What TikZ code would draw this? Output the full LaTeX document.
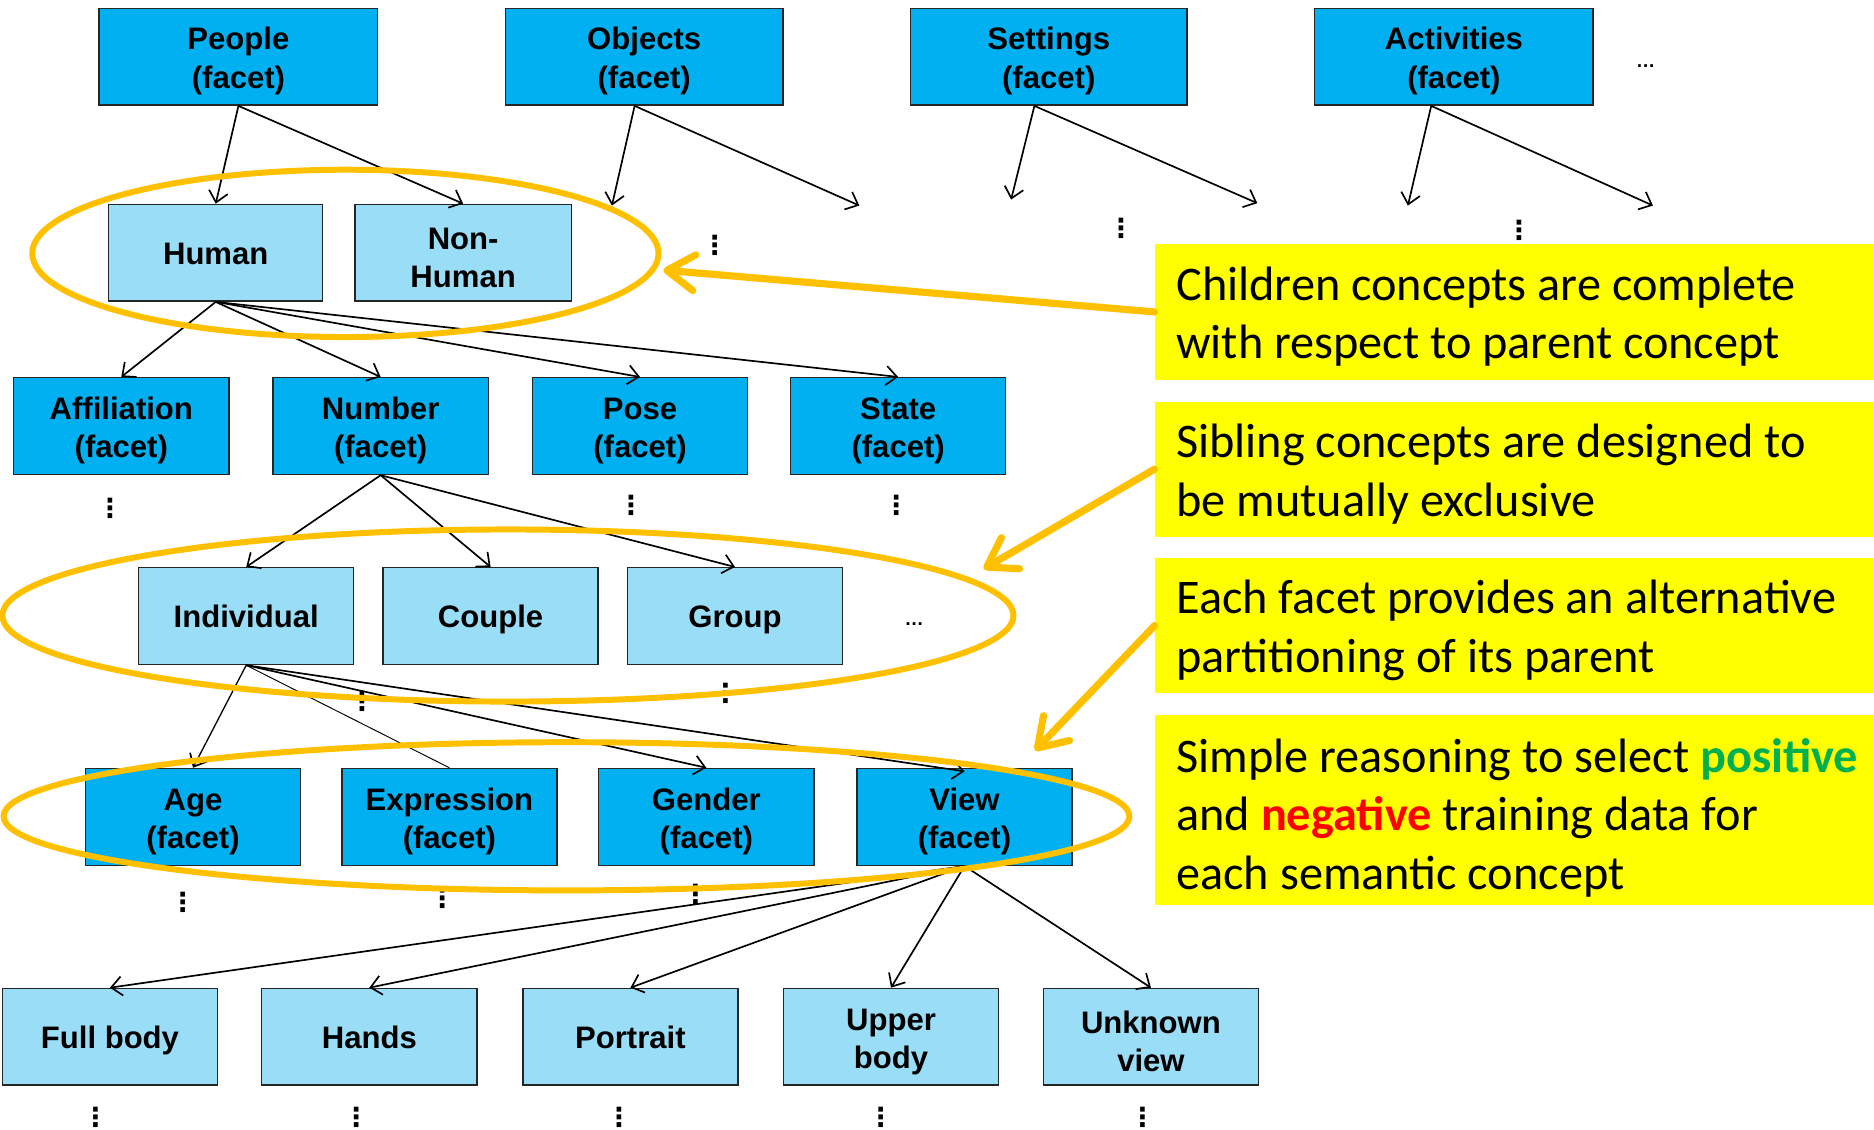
\documentclass[tikz,border=0pt]{standalone}
\usepackage{fontspec}
\setmainfont{Liberation Sans}
\newfontfamily\calloutfont{Carlito}
\newfontfamily\symbolfont{DejaVu Sans}
\usetikzlibrary{arrows.meta}
\definecolor{facetblue}{HTML}{00B0F0}
\definecolor{conceptblue}{HTML}{9ADDF7}
\definecolor{ringorange}{HTML}{FFC000}
\definecolor{noteyellow}{HTML}{FFFF00}
\definecolor{posgreen}{HTML}{00B050}
\definecolor{negred}{HTML}{FF0000}
% fixed first-line heights so that the labels sit at the same level in every box
\newcommand\boxstrut{\rule{0pt}{26pt}}
\newcommand\notestrut{\rule{0pt}{36pt}}

\begin{document}
\begin{tikzpicture}[x=1pt,y=-1pt,
  box/.style={draw=black!85, line width=1.2pt, minimum width=180pt,
    minimum height=81pt, inner sep=0pt, align=center,
    font=\fontsize{26}{32}\selectfont\bfseries},
  facetbox/.style={box, fill=facetblue},
  conceptbox/.style={box, fill=conceptblue},
  oneline/.style={text height=25pt, text depth=6pt},
  link/.style={line width=1.4pt, -{Straight Barb[length=9pt,width=16pt,line width=1.4pt]}},
  thinlink/.style={line width=0.8pt},
  ring/.style={draw=ringorange, line width=5pt},
  pointer/.style={draw=ringorange, line width=6pt, line cap=round,
    -{Straight Barb[length=23pt,width=30pt,line width=6pt,line cap=round,round]}},
  note/.style={fill=noteyellow, inner sep=0pt, minimum width=602pt},
  notetext/.style={anchor=west, inner sep=0pt, align=left,
    font=\calloutfont\fontsize{40.4}{49}\selectfont},
  vdots/.style={inner sep=0pt, font=\symbolfont\bfseries\fontsize{22}{22}\selectfont},
  hdots/.style={inner sep=0pt, font=\fontsize{16}{16}\selectfont\bfseries},
]
\useasboundingbox (0,0) rectangle (1568,945);

% top-level facets
\node[facetbox, minimum width=233pt] (people)     at (199.5,47.5)  {\boxstrut People\\(facet)};
\node[facetbox, minimum width=232pt] (objects)    at (539,47.5)    {\boxstrut Objects\\(facet)};
\node[facetbox, minimum width=231pt] (settings)   at (877.5,47.5)  {\boxstrut Settings\\(facet)};
\node[facetbox, minimum width=233pt] (activities) at (1216.5,47.5) {\boxstrut Activities\\(facet)};
\node[hdots] (moretop) at (1377,55) {…};

% children of People
\node[conceptbox, oneline, minimum width=179pt] (human) at (180.5,211.5) {Human};
\node[conceptbox, minimum width=181pt] (nonhuman) at (387.5,211.5) {\boxstrut Non-\\Human};

% facets of Human
\node[facetbox] (affiliation) at (101.5,356.5) {\boxstrut Affiliation\\(facet)};
\node[facetbox] (number)      at (318.5,356.5) {\boxstrut Number\\(facet)};
\node[facetbox] (pose)        at (535.5,356.5) {\boxstrut Pose\\(facet)};
\node[facetbox] (state)       at (751.5,356.5) {\boxstrut State\\(facet)};

% children of Number
\node[conceptbox, oneline] (individual) at (206,515.5)   {Individual};
\node[conceptbox, oneline] (couple)     at (410.5,515.5) {Couple};
\node[conceptbox, oneline] (group)      at (615,515.5)   {Group};
\node[hdots] (moregroup) at (765,522) {…};

% facets of Individual
\node[facetbox] (age)        at (161.5,683.5) {\boxstrut Age\\(facet)};
\node[facetbox] (expression) at (376,683.5)   {\boxstrut Expression\\(facet)};
\node[facetbox] (gender)     at (591,683.5)   {\boxstrut Gender\\(facet)};
\node[facetbox] (view)       at (807,683.5)   {\boxstrut View\\(facet)};

% children of View
\node[conceptbox, oneline] (fullbody) at (92,867.5)    {Full body};
\node[conceptbox, oneline] (hands)    at (309,867.5)   {Hands};
\node[conceptbox, oneline] (portrait) at (527.5,867.5) {Portrait};
\node[conceptbox] (upper)    at (745.5,867.5) {\boxstrut Upper\\body};
\node[conceptbox] (unknown)  at (963,867.5)   {\boxstrut Unknown\\view};

% open ends of the other top-level facets
\coordinate (objA) at (512,172);
\coordinate (objB) at (719,172);
\coordinate (setA) at (846,167);
\coordinate (setB) at (1052,170);
\coordinate (actA) at (1178,172);
\coordinate (actB) at (1383,172);

% continuation marks
\node[vdots] (d1)  at (598,205) {⋮};
\node[vdots] (d2)  at (938,191) {⋮};
\node[vdots] (d3)  at (1271,193) {⋮};
\node[vdots] (d4)  at (92,425) {⋮};
\node[vdots] (d5)  at (528,423) {⋮};
\node[vdots] (d6)  at (750,423) {⋮};
\node[vdots] (d7)  at (303,587) {⋮};
\node[vdots] (d8)  at (607,580) {⋮};
\node[vdots] (d9)  at (153,755) {⋮};
\node[vdots] (d10) at (370,752) {⋮};
\node[vdots] (d11) at (582,748) {⋮};
\node[vdots] (d12) at (80,935) {⋮};
\node[vdots] (d13) at (298,935) {⋮};
\node[vdots] (d14) at (518,935) {⋮};
\node[vdots] (d15) at (737,935) {⋮};
\node[vdots] (d16) at (956,935) {⋮};

% hierarchy links
\draw[link] (people.south) -- (human.north);
\draw[link] (people.south) -- (nonhuman.north);
\draw[link] ([xshift=-8pt]objects.south) -- (objA);
\draw[link] ([xshift=-8pt]objects.south) -- (objB);
\draw[link] ([xshift=-12pt]settings.south) -- (setA);
\draw[link] ([xshift=-12pt]settings.south) -- (setB);
\draw[link] ([xshift=-19pt]activities.south) -- (actA);
\draw[link] ([xshift=-19pt]activities.south) -- (actB);

\draw[link] (human.south) -- (affiliation.north);
\draw[link] (human.south) -- (number.north);
\draw[link] (human.south) -- (pose.north);
\draw[link] (human.south) -- (state.north);

\draw[link] (number.south) -- (individual.north);
\draw[link] (number.south) -- (couple.north);
\draw[link] (number.south) -- (group.north);

\draw[link, line width=1.1pt] (individual.south) -- (age.north);
\draw[thinlink] (individual.south) -- (expression.north);
\draw[link] (individual.south) -- (gender.north);
\draw[link] (individual.south) -- ([yshift=-3pt]view.north);

\draw[link] (view.south) -- (fullbody.north);
\draw[link] (view.south) -- (hands.north);
\draw[link] (view.south) -- (portrait.north);
\draw[link] (view.south) -- (upper.north);
\draw[link] (view.south) -- (unknown.north);

% groupings
\draw[ring] (289,212) ellipse [x radius=262, y radius=70];
\draw[ring] (425,515) ellipse [x radius=423, y radius=72];
\draw[ring] (474,683) ellipse [x radius=471, y radius=62];

% notes
\node[note, anchor=west, minimum height=114pt] (c1) at (966,261) {};
\node[notetext] (t1) at ([xshift=18pt]c1.west) {\notestrut Children concepts are complete\\with respect to parent concept};
\node[note, anchor=west, minimum height=113pt] (c2) at (966,392.5) {};
\node[notetext] (t2) at ([xshift=18pt]c2.west) {\notestrut Sibling concepts are designed to\\be mutually exclusive};
\node[note, anchor=west, minimum height=113pt] (c3) at (966,523.5) {};
\node[notetext] (t3) at ([xshift=18pt]c3.west) {\notestrut Each facet provides an alternative\\partitioning of its parent};
\node[note, anchor=west, minimum height=159pt] (c4) at (966,677.5) {};
\node[notetext] (t4) at ([xshift=18pt,yshift=-3pt]c4.west) {\notestrut Simple reasoning to select {\bfseries\color{posgreen}positive}\\and {\bfseries\color{negred}negative} training data for\\each semantic concept};

% note pointers
\coordinate (p1) at (555,226);
\coordinate (p2) at (823,476);
\coordinate (p3) at (866,628);
\draw[pointer] (c1.west) -- (p1);
\draw[pointer] (c2.west) -- (p2);
\draw[pointer] (c3.west) -- (p3);
\end{tikzpicture}
\end{document}
